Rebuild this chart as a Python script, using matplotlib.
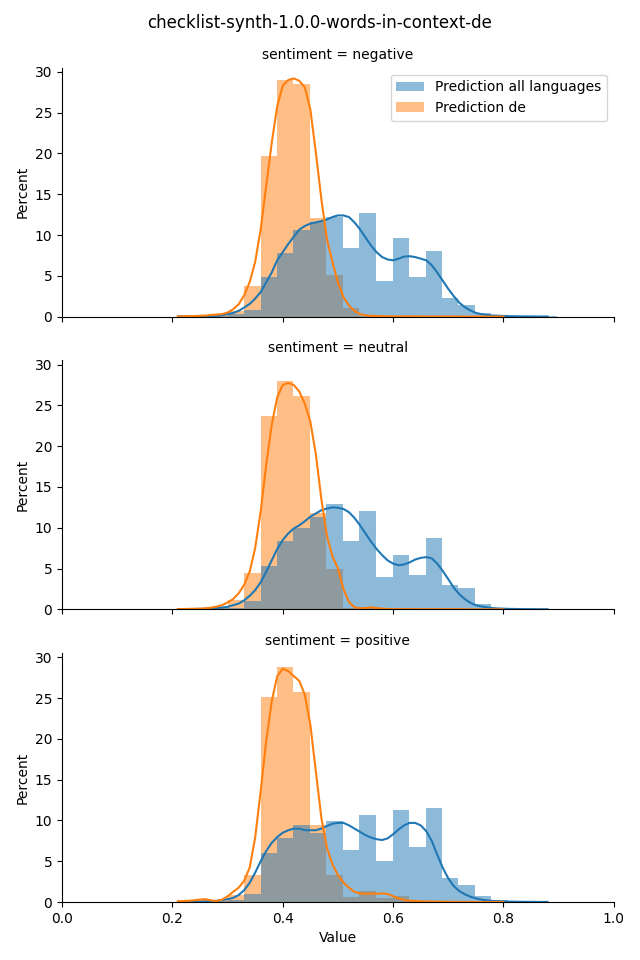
# words_in_context_hist.py
import numpy as np
import matplotlib
matplotlib.use("Agg")
import matplotlib.pyplot as plt

# --- Data ---
title = "checklist-synth-1.0.0-words-in-context-de"
sentiments = ["negative", "neutral", "positive"]
series_labels = ["Prediction all languages", "Prediction de"]

# shared histogram bins (23 bins)
bin_edges = [0.210, 0.240, 0.270, 0.300, 0.330, 0.360, 0.389, 0.419, 0.449,
             0.479, 0.509, 0.539, 0.569, 0.599, 0.629, 0.659, 0.688, 0.718,
             0.748, 0.778, 0.808, 0.838, 0.868, 0.898]

# bar heights in percent, one value per bin
neg_all = [0.05, 0.05, 0.1, 0.3, 0.8, 4.9, 7.85, 10.65, 11.55, 12.25, 8.35, 12.7,
           4.4, 9.65, 4.8, 8.1, 2.25, 1.45, 0.45, 0.15, 0.05, 0.03, 0.02]
neg_de = [0.05, 0.1, 0.2, 0.65, 3.7, 19.7, 29.0, 28.5, 12.1, 5.1, 1.0, 0.1,
          0.05, 0, 0, 0, 0, 0, 0, 0, 0, 0, 0]
neu_all = [0.05, 0.05, 0.1, 0.2, 1.0, 5.25, 8.4, 10.0, 11.35, 12.85, 8.4, 12.1,
           3.9, 6.6, 4.15, 8.8, 2.95, 2.55, 0.6, 0.2, 0.05, 0.03, 0.02]
neu_de = [0.05, 0.1, 0.25, 1.15, 4.4, 23.7, 28.0, 26.1, 11.75, 4.9, 0.1, 0.3,
          0.05, 0, 0, 0, 0, 0, 0, 0, 0, 0, 0]
pos_all = [0.05, 0.05, 0.1, 0.3, 0.95, 6.0, 7.8, 9.4, 8.5, 9.9, 6.4, 10.7,
           5.0, 11.3, 6.7, 11.55, 2.9, 2.1, 0.7, 0.3, 0.05, 0.03, 0.02]
pos_de = [0.1, 0.3, 0.2, 0.8, 3.3, 25.1, 28.8, 25.8, 9.5, 3.3, 0.6, 1.35,
          0.55, 0.75, 0.1, 0.05, 0, 0, 0, 0, 0, 0, 0]

# kde curves, sampled at 0.21, 0.22, ... 0.88 (68 points)
kde_x = [0.21, 0.22, 0.23, 0.24, 0.25, 0.26, 0.27, 0.28, 0.29, 0.30,
         0.31, 0.32, 0.33, 0.34, 0.35, 0.36, 0.37, 0.38, 0.39, 0.40,
         0.41, 0.42, 0.43, 0.44, 0.45, 0.46, 0.47, 0.48, 0.49, 0.50,
         0.51, 0.52, 0.53, 0.54, 0.55, 0.56, 0.57, 0.58, 0.59, 0.60,
         0.61, 0.62, 0.63, 0.64, 0.65, 0.66, 0.67, 0.68, 0.69, 0.70,
         0.71, 0.72, 0.73, 0.74, 0.75, 0.76, 0.77, 0.78, 0.79, 0.80,
         0.81, 0.82, 0.83, 0.84, 0.85, 0.86, 0.87, 0.88]
neg_all_kde = [0.02, 0.02, 0.03, 0.04, 0.05, 0.06, 0.08, 0.1, 0.18, 0.3,
               0.45, 0.7, 1.1, 1.55, 2.2, 3.0, 4.2, 5.4, 6.9, 7.9,
               8.9, 9.8, 10.65, 11.1, 11.4, 11.55, 11.7, 11.9, 12.2, 12.4,
               12.4, 12.2, 11.55, 10.7, 9.7, 8.7, 7.9, 7.3, 7.0, 6.9,
               7.1, 7.35, 7.4, 7.3, 7.1, 6.9, 6.3, 5.4, 4.4, 3.4,
               2.5, 1.7, 1.15, 0.75, 0.45, 0.3, 0.2, 0.13, 0.1, 0.07,
               0.05, 0.04, 0.03, 0.02, 0.02, 0.01, 0.01, 0.01]
neg_de_kde = [0.02, 0.03, 0.05, 0.07, 0.1, 0.13, 0.2, 0.25, 0.3, 0.5,
              0.9, 1.5, 2.6, 4.2, 6.7, 10.7, 16.0, 21.3, 25.8, 28.3,
              29.0, 29.2, 28.9, 28.1, 25.4, 20.1, 14.4, 9.5, 6.7, 4.2,
              2.4, 1.35, 0.7, 0.3, 0.15, 0.1, 0.07, 0.05, 0.04, 0.03,
              0.02, 0.02, 0.02, 0.02, 0.01, 0.01, 0.01, 0.01, 0.01, 0.01,
              0.01, 0.01, 0.0, 0.0, 0.0, 0.0, 0.0, 0.0, 0.0, 0.0,
              None, None, None, None, None, None, None, None]
neu_all_kde = [0.02, 0.02, 0.03, 0.04, 0.05, 0.07, 0.1, 0.15, 0.22, 0.3,
               0.5, 0.7, 1.1, 1.65, 2.35, 3.3, 4.6, 6.0, 7.4, 8.5,
               9.3, 9.9, 10.3, 10.8, 11.35, 11.75, 12.15, 12.35, 12.5, 12.45,
               12.3, 11.9, 11.2, 10.3, 9.3, 8.3, 7.4, 6.65, 6.0, 5.6,
               5.4, 5.5, 5.75, 6.1, 6.3, 6.4, 6.25, 5.6, 4.7, 3.7,
               2.65, 1.85, 1.25, 0.8, 0.5, 0.35, 0.25, 0.15, 0.1, 0.08,
               0.05, 0.04, 0.03, 0.02, 0.02, 0.01, 0.01, 0.01]
neu_de_kde = [0.02, 0.03, 0.05, 0.06, 0.08, 0.12, 0.2, 0.33, 0.5, 0.85,
              1.25, 1.95, 3.0, 4.6, 7.5, 12.0, 17.7, 22.6, 26.0, 27.5,
              27.75, 27.5, 26.7, 25.2, 23.0, 19.0, 13.5, 9.0, 6.5, 5.0,
              2.5, 0.9, 0.25, 0.12, 0.15, 0.25, 0.15, 0.08, 0.04, 0.03,
              0.02, 0.02, 0.02, 0.01, 0.01, 0.01, 0.01, 0.01, 0.01, 0.01,
              0.01, 0.01, 0.0, 0.0, 0.0, 0.0, 0.0, 0.0, 0.0, 0.0,
              None, None, None, None, None, None, None, None]
pos_all_kde = [0.02, 0.02, 0.03, 0.04, 0.05, 0.07, 0.1, 0.15, 0.25, 0.35,
               0.5, 0.85, 1.45, 2.35, 3.6, 5.0, 6.25, 7.25, 7.95, 8.5,
               8.8, 9.0, 9.0, 8.8, 8.8, 8.8, 9.0, 9.3, 9.6, 9.7,
               9.7, 9.4, 9.0, 8.6, 8.2, 7.9, 7.7, 7.6, 7.8, 8.3,
               8.9, 9.4, 9.7, 9.7, 9.4, 8.7, 7.5, 5.8, 4.2, 2.9,
               1.95, 1.35, 0.95, 0.65, 0.45, 0.3, 0.2, 0.13, 0.1, 0.08,
               0.05, 0.04, 0.03, 0.02, 0.02, 0.01, 0.01, 0.01]
pos_de_kde = [0.1, 0.12, 0.15, 0.22, 0.3, 0.35, 0.2, 0.12, 0.3, 0.7,
              1.25, 1.75, 2.6, 4.2, 7.9, 13.6, 19.7, 24.6, 27.7, 28.6,
              28.3, 27.7, 27.1, 25.4, 21.75, 16.0, 10.3, 6.65, 4.6, 3.3,
              2.4, 1.75, 1.25, 1.05, 1.0, 1.05, 1.0, 1.05, 1.0, 0.7,
              0.45, 0.25, 0.17, 0.12, 0.09, 0.07, 0.06, 0.05, 0.04, 0.03,
              0.02, 0.02, 0.01, 0.01, 0.01, 0.0, 0.0, 0.0, 0.0, 0.0,
              None, None, None, None, None, None, None, None]

hist_all = [neg_all, neu_all, pos_all]
hist_de = [neg_de, neu_de, pos_de]
kde_all = [neg_all_kde, neu_all_kde, pos_all_kde]
kde_de = [neg_de_kde, neu_de_kde, pos_de_kde]

BLUE = "#1f77b4"
ORANGE = "#ff7f0e"

# --- Plot ---
fig, axes = plt.subplots(3, 1, figsize=(6.4, 9.6), dpi=100, sharex=True, sharey=True)
fig.subplots_adjust(left=0.097, right=0.959, bottom=0.0604, top=0.9294, hspace=0.1765)

edges = np.array(bin_edges)
widths = np.diff(edges)
xs = np.array(kde_x)

for i, ax in enumerate(axes):
    # orange first so the blue layer sits on top (gives the grey overlap)
    ax.bar(edges[:-1], hist_de[i], width=widths, align="edge",
           color=ORANGE, alpha=0.5, linewidth=0, label=series_labels[1])
    ax.bar(edges[:-1], hist_all[i], width=widths, align="edge",
           color=BLUE, alpha=0.5, linewidth=0, label=series_labels[0])

    y_all = np.array([np.nan if v is None else v for v in kde_all[i]])
    y_de = np.array([np.nan if v is None else v for v in kde_de[i]])
    ax.plot(xs, y_all, color=BLUE, linewidth=1.5)
    ax.plot(xs, y_de, color=ORANGE, linewidth=1.5)

    ax.set_title(f"sentiment = {sentiments[i]}", fontsize=10)
    ax.set_ylabel("Percent")
    ax.spines["top"].set_visible(False)
    ax.spines["right"].set_visible(False)
    ax.tick_params(axis="x", labelbottom=(i == 2))

axes[0].set_xlim(0, 1)
axes[0].set_ylim(0, 30.5)
axes[0].set_yticks([0, 5, 10, 15, 20, 25, 30])
axes[-1].set_xlabel("Value")

# legend only on the top facet, blue entry first
handles, labels = axes[0].get_legend_handles_labels()
axes[0].legend(handles[::-1], labels[::-1], loc="upper right")

fig.suptitle(title, fontsize=12, y=0.985)

plt.savefig("out.png")
plt.close()
